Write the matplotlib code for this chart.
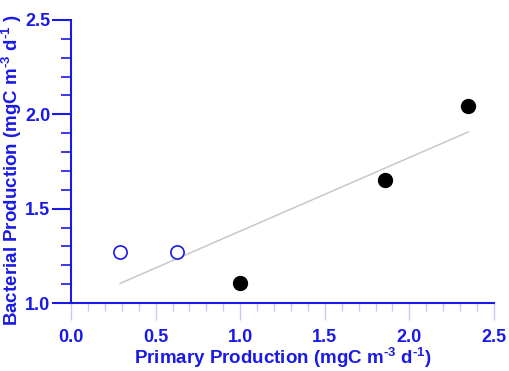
import numpy as np
import matplotlib
matplotlib.use("Agg")
import matplotlib.pyplot as plt
from matplotlib.ticker import MultipleLocator

# ---- data ----
open_pp = [0.29, 0.625]
open_bp = [1.27, 1.27]
filled_pp = [1.0, 1.856, 2.348]
filled_bp = [1.105, 1.652, 2.044]
x_ticks = [0.0, 0.5, 1.0, 1.5, 2.0, 2.5]
y_ticks = [1.0, 1.5, 2.0, 2.5]

BLUE = "#1a1ae6"
LAVENDER = "#c8c8f0"

plt.rcParams['font.family'] = ['Liberation Sans', 'DejaVu Sans']
plt.rcParams['font.weight'] = 'bold'
plt.rcParams['mathtext.fontset'] = 'custom'
plt.rcParams['mathtext.rm'] = 'Liberation Sans:bold'
plt.rcParams['mathtext.it'] = 'Liberation Sans:bold'
plt.rcParams['mathtext.bf'] = 'Liberation Sans:bold'

fig = plt.figure(figsize=(5.1, 3.71), dpi=100)
ax = fig.add_axes([71 / 510, 68 / 371, 423 / 510, 283 / 371])

# regression over all points
all_x = np.array(open_pp + filled_pp)
all_y = np.array(open_bp + filled_bp)
slope, icpt = np.polyfit(all_x, all_y, 1)
xl = np.array([all_x.min(), all_x.max()])
ax.plot(xl, slope * xl + icpt, color="#c8c8c8", lw=1.1, zorder=1)

ax.plot(open_pp, open_bp, 'o', ms=9.5, mfc='white', mec=BLUE, mew=1.2,
        ls='none', zorder=3)
ax.plot(filled_pp, filled_bp, 'o', ms=10, color='black', ls='none', zorder=3)

ax.set_xlim(0, 2.5)
ax.set_ylim(1.0, 2.5)

for s in ['top', 'right']:
    ax.spines[s].set_visible(False)
for s in ['left', 'bottom']:
    ax.spines[s].set_color(BLUE)
    ax.spines[s].set_linewidth(1.5)

ax.set_xticks(x_ticks, [f"{v:.1f}" for v in x_ticks], fontweight='bold',
              fontsize=13, color=BLUE)
ax.set_yticks(y_ticks, [f"{v:.1f}" for v in y_ticks], fontweight='bold',
              fontsize=13, color=BLUE)
ax.xaxis.set_minor_locator(MultipleLocator(0.1))
ax.yaxis.set_minor_locator(MultipleLocator(0.1))

ax.tick_params(axis='x', which='major', direction='out', length=12, width=1,
               color=LAVENDER, pad=7)
ax.tick_params(axis='x', which='minor', direction='out', length=6, width=1,
               color=LAVENDER)
ax.tick_params(axis='y', which='major', direction='out', length=14, width=1.5,
               color=BLUE, pad=1)
ax.tick_params(axis='y', which='minor', direction='out', length=7, width=1.2,
               color=BLUE)

ax.set_xlabel("Primary Production (mgC m$^{\\text{-3}}$ d$^{\\text{-1}}$)",
              color=BLUE, fontsize=13.5, fontweight='bold', labelpad=0)
ax.set_ylabel("Bacterial Production (mgC m$^{\\text{-3}}$ d$^{\\text{-1}}$ )",
              color=BLUE, fontsize=13.5, fontweight='bold', labelpad=1)
ax.yaxis.label.set_y(0.47)

fig.savefig("out.png", dpi=100)
